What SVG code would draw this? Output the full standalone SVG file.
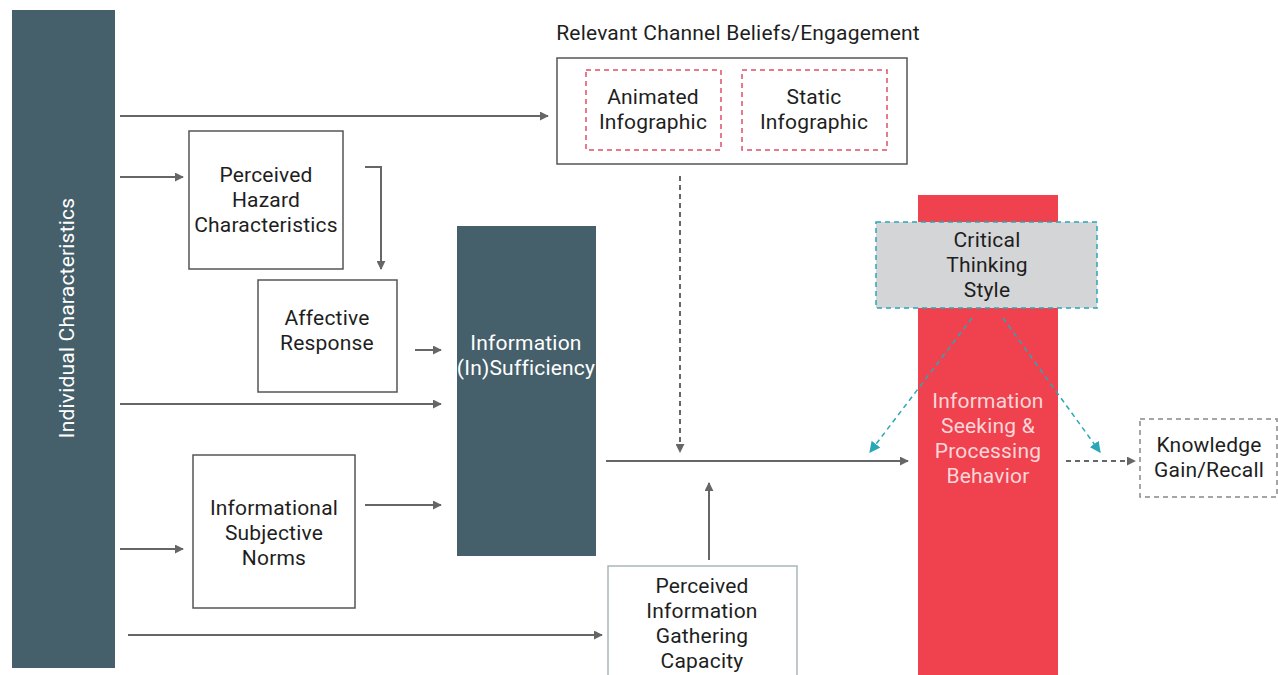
<svg xmlns="http://www.w3.org/2000/svg" width="1278" height="675" viewBox="0 0 1278 675">
  <defs>
    <marker id="ah" viewBox="0 0 10 10" refX="9" refY="5" markerWidth="9" markerHeight="9" markerUnits="userSpaceOnUse" orient="auto">
      <path d="M0,0 L10,5 L0,10 z" fill="#666"/>
    </marker>
    <marker id="ahTeal" viewBox="0 0 10 10" refX="9" refY="5" markerWidth="11" markerHeight="11" markerUnits="userSpaceOnUse" orient="auto">
      <path d="M0,0 L10,5 L0,10 z" fill="#2aa7b6"/>
    </marker>
    <style>
      text { font-family: Roboto, "Liberation Sans", sans-serif; font-size: 21px; letter-spacing: 0.2px; fill: #1e1e1e; text-anchor: middle; }
      .light { fill: #ffffff; }
      .pink { fill: #fbd6d9; }
      .box { fill: #ffffff; stroke: #555; stroke-width: 1.5; }
      .dark { fill: #455f6b; }
      .conn { stroke: #666; stroke-width: 2; fill: none; marker-end: url(#ah); }
      .dash { stroke-dasharray: 5 4; }
      .teal { stroke: #2aa7b6; stroke-width: 1.5; fill: none; stroke-dasharray: 5 4; marker-end: url(#ahTeal); }
    </style>
  </defs>
  <rect width="1278" height="675" fill="#ffffff"/>

  <g id="individual-characteristics">
    <rect class="dark" x="12" y="10" width="103" height="658"/>
    <text class="light" transform="translate(74,318) rotate(-90)">Individual Characteristics</text>
  </g>

  <g id="perceived-hazard">
    <rect class="box" x="189" y="131" width="154" height="138"/>
    <text x="266" y="182">Perceived<tspan x="266" dy="25">Hazard</tspan><tspan x="266" dy="25">Characteristics</tspan></text>
  </g>

  <g id="affective-response">
    <rect class="box" x="258" y="280" width="139" height="112"/>
    <text x="327" y="325">Affective<tspan x="327" dy="25">Response</tspan></text>
  </g>

  <g id="subjective-norms">
    <rect class="box" x="193" y="455" width="162" height="153" stroke="#3b4a52"/>
    <text x="274" y="515">Informational<tspan x="274" dy="25">Subjective</tspan><tspan x="274" dy="25">Norms</tspan></text>
  </g>

  <g id="information-sufficiency">
    <rect class="dark" x="457" y="226" width="139" height="330"/>
    <text class="light" x="526" y="350">Information<tspan x="526" dy="25">(In)Sufficiency</tspan></text>
  </g>

  <g id="channel-beliefs">
    <text x="738" y="40">Relevant Channel Beliefs/Engagement</text>
    <rect class="box" x="557" y="58" width="350" height="106" stroke="#3b4a52"/>
    <g id="animated-infographic">
      <rect x="586" y="70" width="135" height="80" fill="none" stroke="#e0506a" stroke-width="1.5" stroke-dasharray="5 4"/>
      <text x="653" y="104">Animated<tspan x="653" dy="25">Infographic</tspan></text>
    </g>
    <g id="static-infographic">
      <rect x="742" y="70" width="145" height="80" fill="none" stroke="#e0506a" stroke-width="1.5" stroke-dasharray="5 4"/>
      <text x="814" y="104">Static<tspan x="814" dy="25">Infographic</tspan></text>
    </g>
  </g>

  <g id="gathering-capacity">
    <rect x="608" y="566" width="189" height="115" fill="#ffffff" stroke="#a9b7bb" stroke-width="1.5"/>
    <text x="702" y="593">Perceived<tspan x="702" dy="25">Information</tspan><tspan x="702" dy="25">Gathering</tspan><tspan x="702" dy="25">Capacity</tspan></text>
  </g>

  <g id="seeking-processing">
    <rect x="918" y="195" width="140" height="480" fill="#f0414f"/>
    <text class="pink" x="988" y="408">Information<tspan x="988" dy="25">Seeking &amp;</tspan><tspan x="988" dy="25">Processing</tspan><tspan x="988" dy="25">Behavior</tspan></text>
  </g>

  <g id="critical-thinking">
    <rect x="876" y="222" width="221" height="86" fill="#d4d5d7" stroke="#2aa7b6" stroke-width="1.5" stroke-dasharray="5 4"/>
    <text x="987" y="247">Critical<tspan x="987" dy="25">Thinking</tspan><tspan x="987" dy="25">Style</tspan></text>
  </g>

  <g id="knowledge-gain">
    <rect x="1140" y="419" width="137" height="78" fill="#ffffff" stroke="#888" stroke-width="1.5" stroke-dasharray="5 4"/>
    <text x="1209" y="452">Knowledge<tspan x="1209" dy="25">Gain/Recall</tspan></text>
  </g>

  <g id="connectors">
    <line class="conn" x1="120" y1="116" x2="548" y2="116"/>
    <line class="conn" x1="120" y1="177" x2="183" y2="177"/>
    <line class="conn" x1="120" y1="404" x2="441" y2="404"/>
    <line class="conn" x1="120" y1="549" x2="183" y2="549"/>
    <line class="conn" x1="128" y1="635" x2="602" y2="635"/>
    <polyline class="conn" points="365,167 381,167 381,269"/>
    <line class="conn" x1="415" y1="350" x2="441" y2="350"/>
    <line class="conn" x1="365" y1="505" x2="441" y2="505"/>
    <line class="conn" x1="606" y1="461" x2="908" y2="461"/>
    <line class="conn dash" x1="680" y1="176" x2="680" y2="452"/>
    <line class="conn" x1="709" y1="560" x2="709" y2="483"/>
    <line class="conn dash" x1="1066" y1="461" x2="1135" y2="461"/>
    <line class="teal" x1="972" y1="318" x2="870" y2="452"/>
    <line class="teal" x1="1003" y1="318" x2="1100" y2="452"/>
  </g>
</svg>
